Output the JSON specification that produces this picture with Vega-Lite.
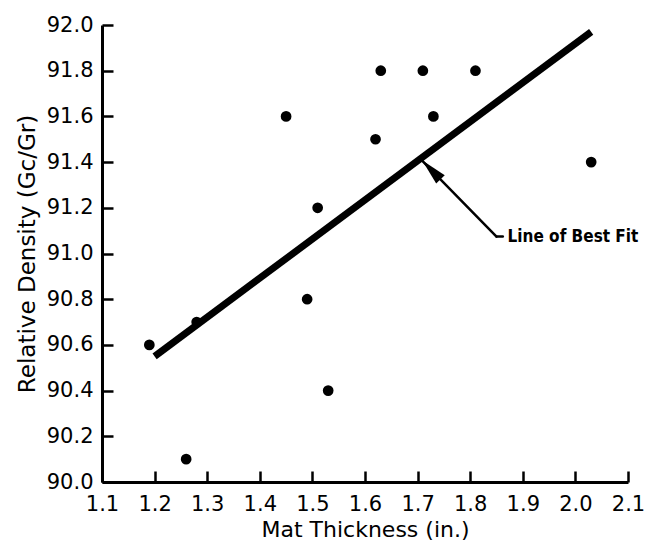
{
  "$schema": "https://vega.github.io/schema/vega-lite/v6.json",
  "width": 526,
  "height": 457,
  "autosize": {"type": "none"},
  "padding": {"left": 102, "top": 25, "right": 22, "bottom": 66},
  "background": "white",
  "config": {
    "view": {"stroke": null},
    "font": "DejaVu Sans",
    "axis": {
      "grid": false,
      "domainColor": "black",
      "domainWidth": 3,
      "tickColor": "black",
      "tickWidth": 2.5,
      "tickSize": -11,
      "labelColor": "black",
      "labelFontSize": 21,
      "labelFlush": false,
      "labelOverlap": false,
      "titleColor": "black",
      "titleFontSize": 22,
      "titleFontWeight": "normal"
    }
  },
  "datasets": {
    "samples": [
      {"thickness": 1.19, "density": 90.6},
      {"thickness": 1.26, "density": 90.1},
      {"thickness": 1.28, "density": 90.7},
      {"thickness": 1.45, "density": 91.6},
      {"thickness": 1.49, "density": 90.8},
      {"thickness": 1.51, "density": 91.2},
      {"thickness": 1.53, "density": 90.4},
      {"thickness": 1.62, "density": 91.5},
      {"thickness": 1.63, "density": 91.8},
      {"thickness": 1.71, "density": 91.8},
      {"thickness": 1.73, "density": 91.6},
      {"thickness": 1.81, "density": 91.8},
      {"thickness": 2.03, "density": 91.4}
    ],
    "fit": [
      {"thickness": 1.2, "density": 90.55},
      {"thickness": 2.03, "density": 91.97}
    ],
    "leader": [
      {"thickness": 1.709, "density": 91.405, "thickness2": 1.85, "density2": 91.074},
      {"thickness": 1.85, "density": 91.074, "thickness2": 1.862, "density2": 91.074}
    ],
    "arrowhead": [
      {"thickness": 1.726, "density": 91.366}
    ],
    "note": [
      {"thickness": 1.871, "density": 91.074, "text": "Line of Best Fit"}
    ]
  },
  "layer": [
    {
      "data": {"name": "fit"},
      "mark": {"type": "line", "color": "black", "strokeWidth": 7, "strokeCap": "butt"},
      "encoding": {
        "x": {
          "field": "thickness",
          "type": "quantitative",
          "scale": {"domain": [1.1, 2.1], "nice": false, "zero": false},
          "axis": {
            "values": [1.1, 1.2, 1.3, 1.4, 1.5, 1.6, 1.7, 1.8, 1.9, 2.0, 2.1],
            "format": ".1f",
            "labelPadding": 22,
            "title": "Mat Thickness (in.)",
            "titlePadding": 5
          }
        },
        "y": {
          "field": "density",
          "type": "quantitative",
          "scale": {"domain": [90, 92], "nice": false, "zero": false},
          "axis": {
            "values": [90.0, 90.2, 90.4, 90.6, 90.8, 91.0, 91.2, 91.4, 91.6, 91.8, 92.0],
            "format": ".1f",
            "labelPadding": 20,
            "title": "Relative Density (Gc/Gr)",
            "titleFontSize": 23,
            "titlePadding": 7
          }
        }
      }
    },
    {
      "data": {"name": "samples"},
      "mark": {"type": "point", "filled": true, "color": "black", "opacity": 1, "size": 115},
      "encoding": {
        "x": {"field": "thickness", "type": "quantitative"},
        "y": {"field": "density", "type": "quantitative"}
      }
    },
    {
      "data": {"name": "leader"},
      "mark": {"type": "rule", "color": "black", "strokeWidth": 2.5, "strokeCap": "round"},
      "encoding": {
        "x": {"field": "thickness", "type": "quantitative"},
        "y": {"field": "density", "type": "quantitative"},
        "x2": {"field": "thickness2"},
        "y2": {"field": "density2"}
      }
    },
    {
      "data": {"name": "arrowhead"},
      "mark": {
        "type": "point",
        "filled": true,
        "color": "black",
        "opacity": 1,
        "shape": "M0,-1L0.45,1L-0.45,1Z",
        "size": 700,
        "angle": -44
      },
      "encoding": {
        "x": {"field": "thickness", "type": "quantitative"},
        "y": {"field": "density", "type": "quantitative"}
      }
    },
    {
      "data": {"name": "note"},
      "mark": {
        "type": "text",
        "align": "left",
        "baseline": "middle",
        "font": "Liberation Sans Narrow, DejaVu Sans Condensed, Roboto",
        "fontWeight": "bold",
        "fontSize": 17,
        "color": "black"
      },
      "encoding": {
        "x": {"field": "thickness", "type": "quantitative"},
        "y": {"field": "density", "type": "quantitative"},
        "text": {"field": "text"}
      }
    }
  ]
}
